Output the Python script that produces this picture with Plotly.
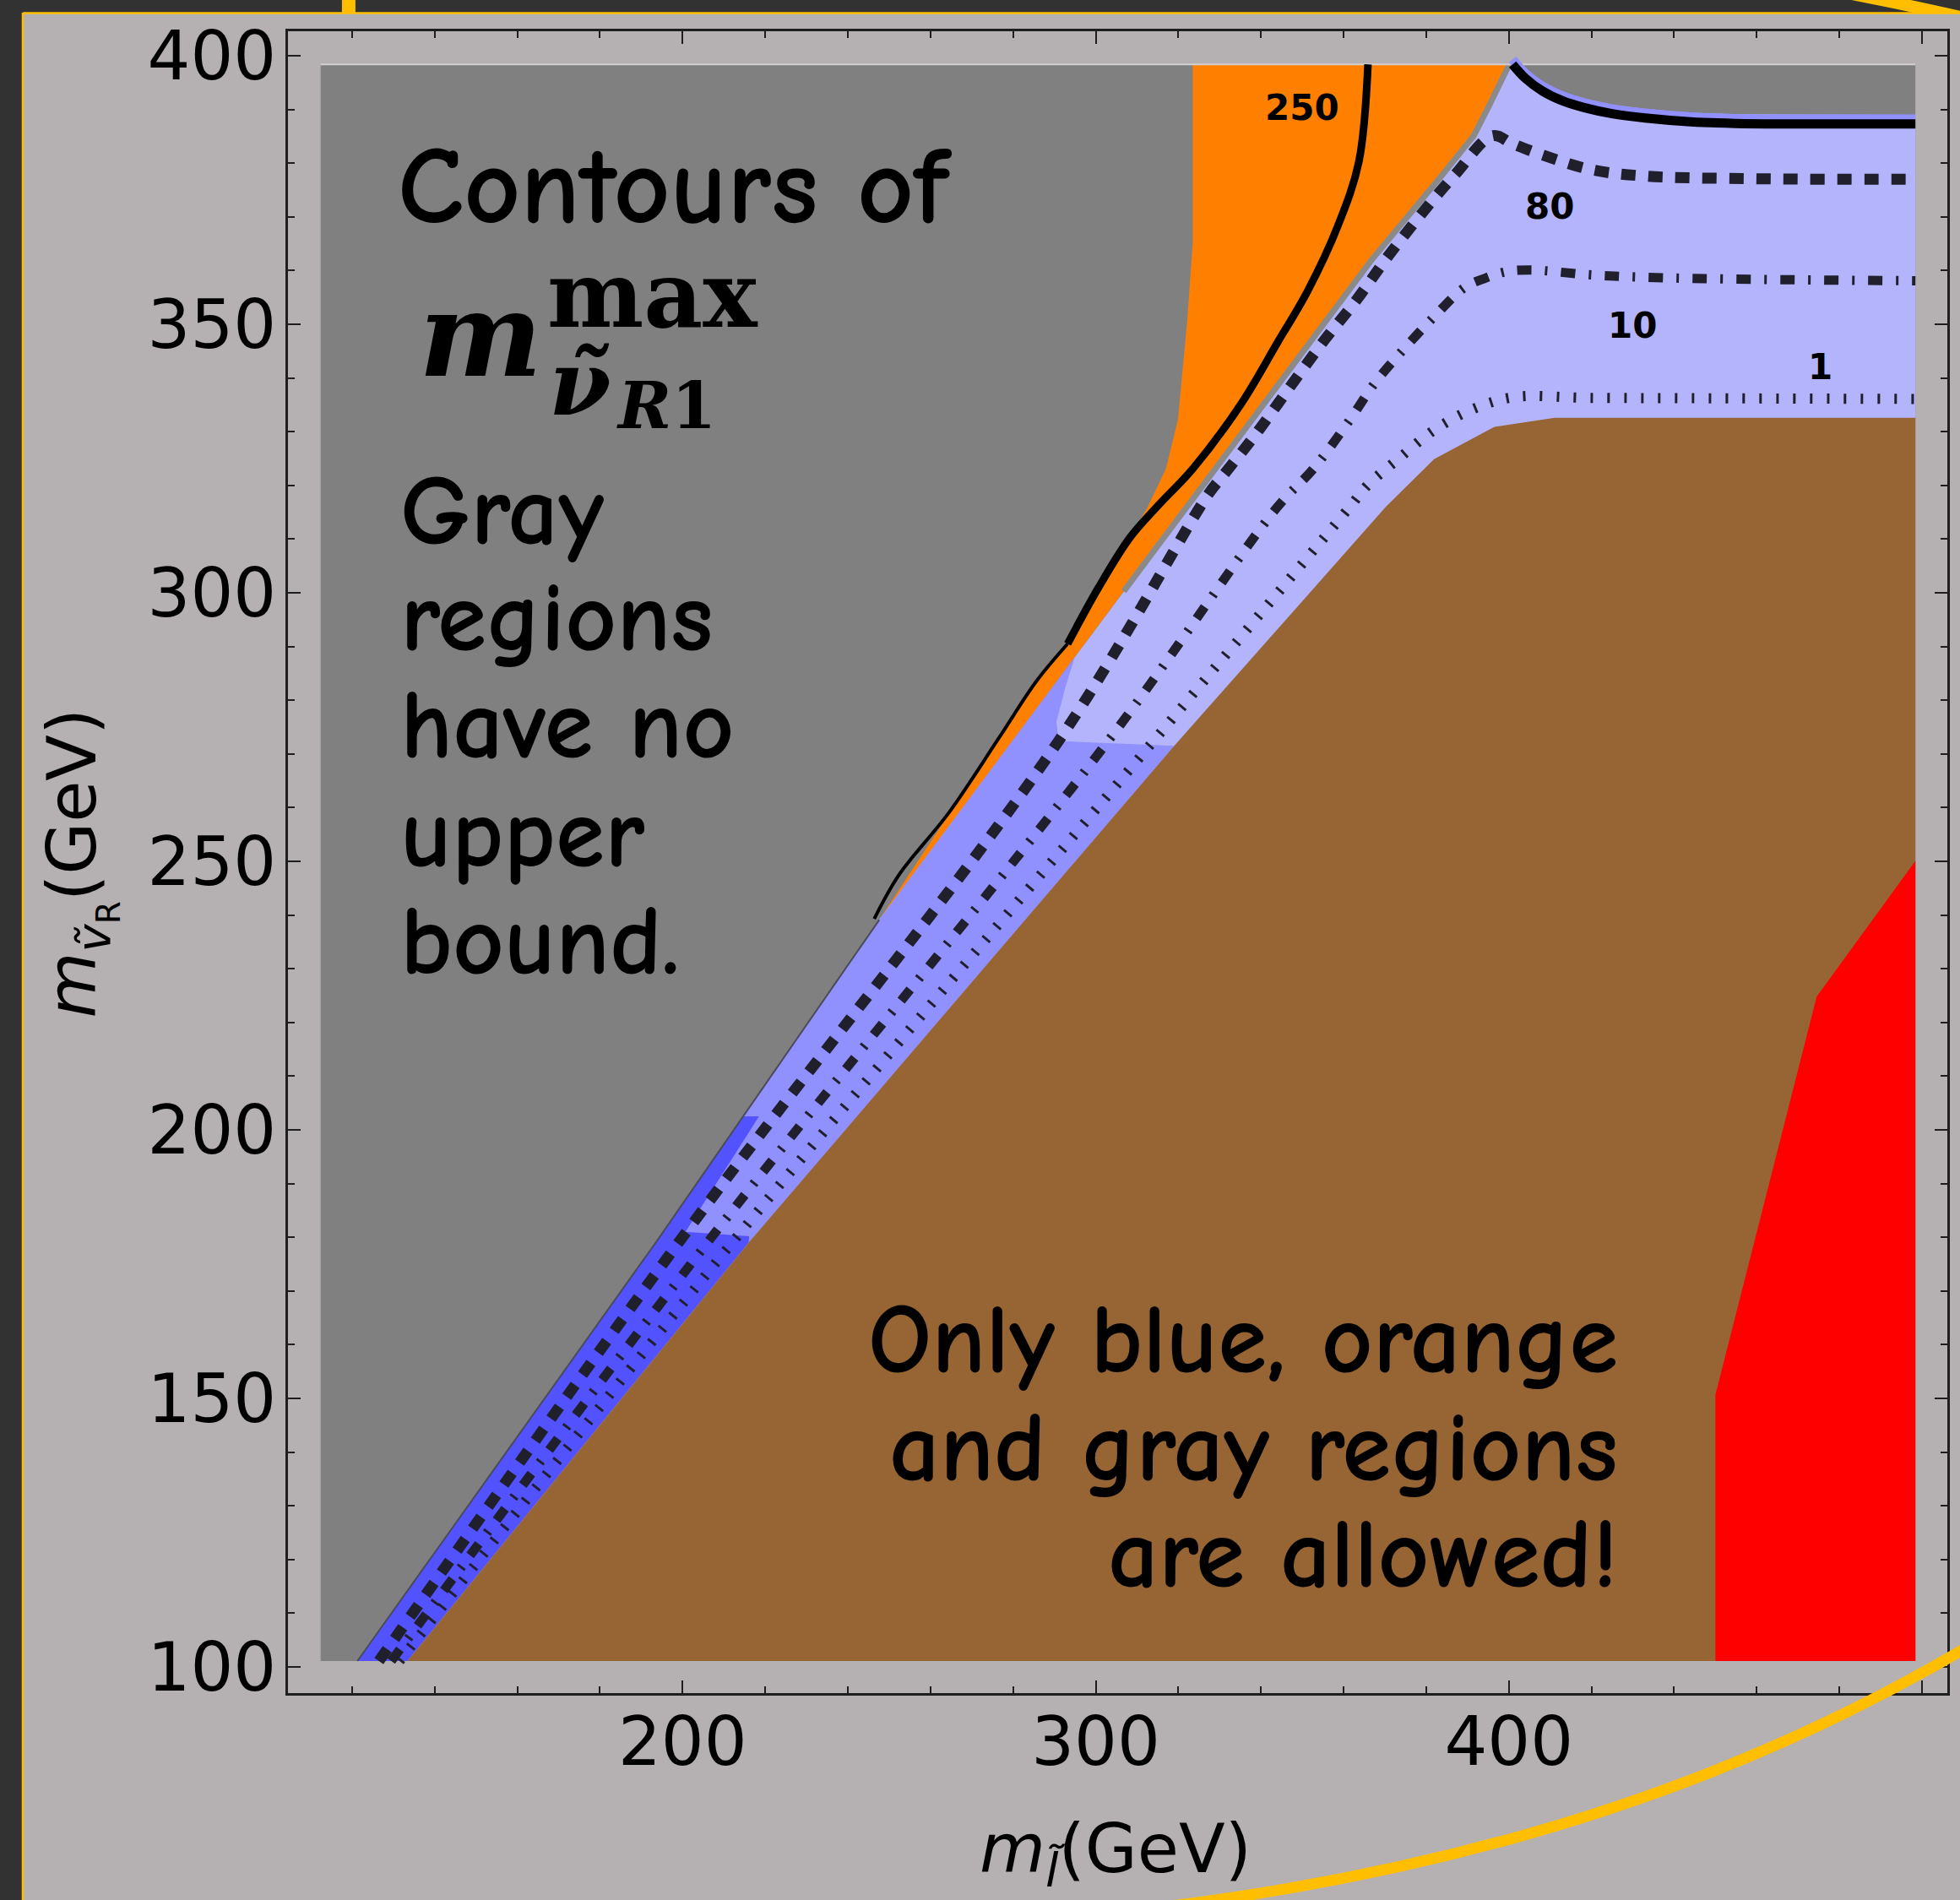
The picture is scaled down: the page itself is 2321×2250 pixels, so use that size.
import numpy as np
import plotly.graph_objects as go

# ---------------------------------------------------------------- figure frame
W, H = 2321, 2250
ML, MR, MT, MB = 341, 12, 37, 245          # plot area = 1968 x 1968 px
PW, PH = W - ML - MR, H - MT - MB

X_RANGE = [104.49, 506.13]
Y_RANGE = [95.13, 404.56]

# extent of the scanned parameter map
MAP_X = [112.4, 498.4]
MAP_Y = [101.1, 398.4]

# ---------------------------------------------------------------- region data
# upper-left edge of the allowed band (gray above / blue below)
edge_x = [121.3, 193.5, 247.6, 306.8, 324.0, 336.0, 352.0, 367.0, 384.0, 391.5, 395.1, 400.1]
edge_y = [101.1, 179.0, 239.1, 300.3, 318.0, 330.0, 346.6, 362.2, 377.9, 385.1, 390.5, 398.4]

# excluded (brown) region, lower right
brown_x = [133.4, 216.0, 319.0, 370.2, 381.9, 396.5, 411.1, 498.4, 498.4]
brown_y = [101.1, 179.0, 271.5, 316.0, 324.9, 330.9, 332.6, 332.6, 101.1]

# excluded (red) region
red_x = [450.0, 450.0, 474.5, 498.4, 498.4]
red_y = [101.1, 150.7, 224.8, 250.1, 101.1]

# left boundary of the orange region
orange_left_x = [323.5, 323.5, 322.1, 319.9, 317.0, 312.6, 306.4]
orange_left_y = [398.4, 365.2, 350.2, 332.2, 323.1, 316.0, 308.0]

# medium-blue part of the band (below the light-blue part)
med_x = [121.3, 193.5, 247.6, 294.9, 292.5, 290.5, 291.0]
med_y = [101.1, 179.0, 239.1, 288.0, 282.0, 276.0, 272.4]

# deep-blue part of the band
deep_x = [121.3, 193.5, 214.7, 218.5, 200.7, 216.1]
deep_y = [101.1, 179.0, 202.5, 202.5, 181.0, 180.2]

# ---------------------------------------------------------------- contours
c250_x = [365.9, 363.7, 358.6, 351.3, 344.0, 335.2, 323.5, 314.8, 308.3, 300.7, 293.2]
c250_y = [398.4, 380.3, 368.3, 356.2, 346.6, 335.2, 323.1, 316.0, 310.3, 301.0, 290.5]
# thin continuation of the 250 contour along the band edge
c250t_x = [293.2, 285.6, 276.6, 264.5, 252.4, 246.4]
c250t_y = [290.5, 283.5, 273.0, 259.1, 247.5, 239.3]
# right-hand branch of the 250 contour
c250b_x = [400.9, 404.0, 408.2, 413.0, 418.4, 425.0, 433.0, 444.0, 454.8, 498.4]
c250b_y = [398.4, 395.8, 393.4, 391.6, 390.3, 389.2, 388.4, 387.7, 387.4, 387.3]

c80_x = [126.5, 199.0, 291.0, 327.2, 330.9, 338.9, 346.9, 354.9, 363.0, 370.3,
         379.0, 387.0, 396.1, 400.9, 408.2, 419.9, 433.0, 460.0, 498.4]
c80_y = [101.1, 179.0, 272.4, 318.3, 321.9, 329.7, 338.2, 346.6, 354.4, 362.2,
         370.7, 377.9, 385.1, 383.6, 381.5, 378.8, 377.6, 377.1, 377.0]

c10_x = [129.5, 206.0, 303.0, 344.0, 352.7, 361.5, 367.3, 373.2, 381.9, 389.2,
         394.3, 399.4, 405.3, 419.9, 440.3, 498.4]
c10_y = [101.1, 179.0, 272.4, 316.0, 323.1, 332.2, 338.8, 344.2, 351.4, 356.8,
         358.6, 359.8, 360.1, 359.2, 358.6, 358.1]

c1_x = [131.5, 212.0, 313.0, 361.5, 365.9, 373.2, 381.9, 390.7, 400.9, 420.0, 498.4]
c1_y = [101.1, 179.0, 271.5, 316.0, 320.1, 324.9, 330.3, 334.0, 336.4, 336.3, 336.1]

contour_labels = ["250", "80", "10", "1"]
label_x = [350.0, 409.8, 429.9, 475.3]
label_y = [390.3, 372.0, 349.8, 342.1]

# ---------------------------------------------------------------- colours
GRAY = "#808080"
ORANGE = "#ff8000"
BLUE_LIGHT = "#b4b4fc"
BLUE_MED = "#9090ff"
BLUE_DEEP = "#5252ff"
BROWN = "#976534"
RED = "#ff0000"
DASH_INK = "#20202c"
PANEL = "#b5b0b1"
DARK = "#323232"
YELLOW = "#ffbf00"

TICK_FONT = "DejaVu Sans, sans-serif"
HAND_FONT = "Comic Sans MS, Comic Neue, DejaVu Sans, sans-serif"
MATH_FONT = "DejaVu Serif, serif"

fig = go.Figure()


def poly(xs, ys, color):
    fig.add_trace(go.Scatter(x=list(xs), y=list(ys), mode="lines", fill="toself",
                             fillcolor=color, line=dict(width=0, color=color),
                             hoverinfo="skip", showlegend=False))


def curve(xs, ys, color, width, dash="solid", shape="linear"):
    fig.add_trace(go.Scatter(x=list(xs), y=list(ys), mode="lines",
                             line=dict(color=color, width=width, dash=dash, shape=shape),
                             hoverinfo="skip", showlegend=False))


ex, ey = np.array(edge_x), np.array(edge_y)
bx, by = np.array(brown_x), np.array(brown_y)
tx, ty = np.array(c250t_x), np.array(c250t_y)

# gray background of the map
poly([MAP_X[0], MAP_X[1], MAP_X[1], MAP_X[0]], [MAP_Y[0], MAP_Y[0], MAP_Y[1], MAP_Y[1]], GRAY)

# orange region: left boundary, down along the 250 contour, back up the band edge
c250x, c250y = np.array(c250_x), np.array(c250_y)
below = c250y < orange_left_y[-1]
up = ey >= 239
poly(list(orange_left_x) + list(c250x[below]) + list(tx[1:3]) + list(ex[up]),
     list(orange_left_y) + list(c250y[below]) + list(ty[1:3]) + list(ey[up]), ORANGE)

# blue band
top_y = np.minimum(np.array(c250b_y) + 1.7, MAP_Y[1])
poly(list(ex) + list(c250b_x) + [MAP_X[1]], list(ey) + list(top_y) + [MAP_Y[0]], BLUE_LIGHT)
poly(list(med_x) + list(bx[:3][::-1]), list(med_y) + list(by[:3][::-1]), BLUE_MED)
poly(list(deep_x) + list(bx[:2][::-1]), list(deep_y) + list(by[:2][::-1]), BLUE_DEEP)

# excluded regions
poly(brown_x, brown_y, BROWN)
poly(red_x, red_y, RED)

# band edge: gray stair shadow next to orange, thin dark rim further down
curve(ex[ey >= 290], ey[ey >= 290], "#8a8a8a", 7)
curve(ex[ey <= 240], ey[ey <= 240], "#4a4a5a", 2)

# light rim along the top of the map
curve(MAP_X, [MAP_Y[1], MAP_Y[1]], "#d4d0d0", 2)

# contours
curve(c250b_x, np.array(c250b_y) + 0.9, BLUE_MED, 11, shape="spline")
curve(c1_x, c1_y, DASH_INK, 12, "3px,17px", shape="spline")
curve(c10_x, c10_y, DASH_INK, 11, "17px,16px,3px,16px", shape="spline")
curve(c80_x, c80_y, DASH_INK, 13, "17px,15px", shape="spline")
curve(c250t_x, c250t_y, "#000000", 4, shape="spline")
curve(c250_x, c250_y, "#000000", 9, shape="spline")
curve(c250b_x, c250b_y, "#000000", 11, shape="spline")

annotations = []
for t, x, y in zip(contour_labels, label_x, label_y):
    annotations.append(dict(x=x, y=y, xref="x", yref="y", text="<b>%s</b>" % t,
                            showarrow=False, font=dict(family="DejaVu Sans", size=42, color="black")))


def px_x(p):
    return (p - ML) / PW


def px_y(p):
    return (H - MB - p) / PH


def note(text, px, py, size, family=HAND_FONT, xanchor="left", **font_kw):
    annotations.append(dict(x=px_x(px), y=px_y(py), xref="paper", yref="paper",
                            text=text, showarrow=False, xanchor=xanchor, yanchor="middle",
                            font=dict(family=family, size=size, color="black", **font_kw)))


# left text block (vertical centre = baseline - 0.346 * size)
note("Contours of", 469, 266 - 0.346 * 130, 130, weight="bold")
note("m", 494, 444 - 0.346 * 138, 138, family=MATH_FONT, weight="bold", style="italic")
note("max", 774, 386 - 0.346 * 108, 108, family=MATH_FONT, xanchor="center", weight="bold")
note("ν\u0303", 688, 490 - 0.346 * 106, 106, family=MATH_FONT, xanchor="center",
     weight="bold", style="italic")
note("<i>R</i>1", 729, 507 - 0.346 * 76, 76, family=MATH_FONT, weight="bold")
for line, base in zip(["Gray", "regions", "have no", "upper", "bound."],
                      [647, 773, 900, 1029, 1156]):
    note(line, 472, base - 0.346 * 118, 118, weight="bold")

# lower right text block
for line, base in zip(["Only blue, orange", "and gray regions", "are allowed!"],
                      [1628, 1756, 1882]):
    note(line, 1920, base - 0.346 * 118, 118, xanchor="right", weight="bold")

# axis titles
annotations.append(dict(x=px_x(1322), y=px_y(2195), xref="paper", yref="paper",
                        text="<i>m</i><sub><i>l\u0303</i></sub>(GeV)", showarrow=False,
                        xanchor="center", yanchor="middle",
                        font=dict(family="DejaVu Sans", size=80, color="black")))
annotations.append(dict(x=px_x(95), y=px_y(1022), xref="paper", yref="paper",
                        text="<i>m</i><sub><i>\u1e7d</i><sub>R</sub></sub>(GeV)", showarrow=False,
                        textangle=-90, xanchor="center", yanchor="middle",
                        font=dict(family="DejaVu Sans", size=80, color="black")))

# ---------------------------------------------------------------- slide decoration
P0, C0, P1 = (1380, 2258), (1935, 2190), (2345, 1943)
arc_path = "M %f,%f Q %f,%f %f,%f" % (px_x(P0[0]), px_y(P0[1]), px_x(C0[0]), px_y(C0[1]),
                                       px_x(P1[0]), px_y(P1[1]))
shapes = [
    dict(type="path", xref="paper", yref="paper", layer="below",
         path="M %f,%f Q %f,%f %f,%f" % (px_x(2170), px_y(-12), px_x(2265), px_y(6),
                                         px_x(2350), px_y(26)),
         line=dict(color=YELLOW, width=14)),
    dict(type="rect", xref="paper", yref="paper", layer="below",
         x0=px_x(27), x1=px_x(W + 20), y0=px_y(16), y1=px_y(H + 20),
         fillcolor=PANEL, line=dict(width=0)),
    dict(type="line", xref="paper", yref="paper", layer="below",
         x0=px_x(27), x1=px_x(W + 20), y0=px_y(15.5), y1=px_y(15.5),
         line=dict(color=YELLOW, width=2.5)),
    dict(type="line", xref="paper", yref="paper", layer="below",
         x0=px_x(26.5), x1=px_x(26.5), y0=px_y(15), y1=px_y(H + 20),
         line=dict(color=YELLOW, width=2.5)),
    dict(type="rect", xref="paper", yref="paper", layer="below",
         x0=px_x(405), x1=px_x(421), y0=px_y(-5), y1=px_y(16),
         fillcolor=YELLOW, line=dict(width=0)),
    dict(type="path", xref="paper", yref="paper", layer="above",
         path=arc_path, line=dict(color=YELLOW, width=13)),
]

axis_common = dict(showline=True, linecolor="#1e1e1e", linewidth=2.5, mirror="ticks",
                   ticks="inside", ticklen=15, tickwidth=2, tickcolor="#1e1e1e",
                   showgrid=False, zeroline=False,
                   tickfont=dict(family=TICK_FONT, size=80, color="black"))

fig.update_layout(
    width=W, height=H,
    margin=dict(l=ML, r=MR, t=MT, b=MB, pad=0),
    paper_bgcolor=DARK, plot_bgcolor=PANEL,
    showlegend=False,
    xaxis=dict(range=X_RANGE, tick0=0, dtick=100, ticklabelstandoff=-14,
               minor=dict(dtick=20, ticklen=8, tickwidth=2, ticks="inside", tickcolor="#1e1e1e"),
               **axis_common),
    yaxis=dict(range=Y_RANGE, tick0=0, dtick=50, ticklabelstandoff=-5,
               minor=dict(dtick=10, ticklen=8, tickwidth=2, ticks="inside", tickcolor="#1e1e1e"),
               **axis_common),
    annotations=annotations,
    shapes=shapes,
)

fig.write_html("out.html")
